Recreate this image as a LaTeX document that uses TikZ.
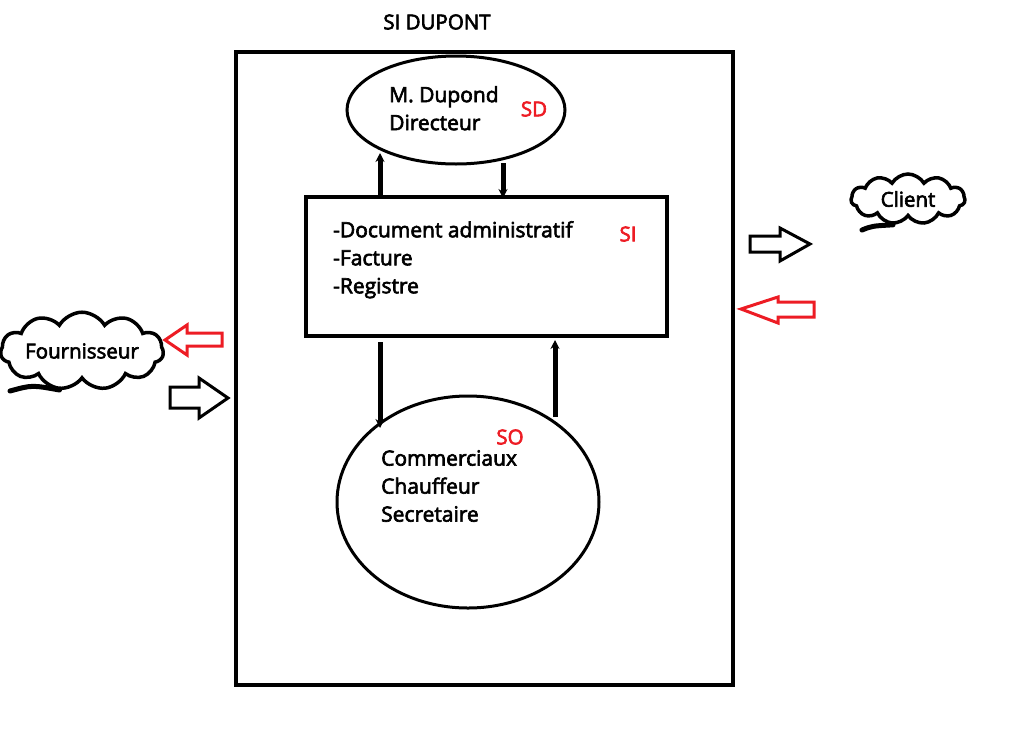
\documentclass[tikz,border=0pt]{standalone}
\usepackage{fontspec}
\setmainfont{Open Sans}
\newfontfamily\semib{Open Sans}[FakeBold=3]
\usetikzlibrary{shapes.symbols,arrows.meta,calc}
\definecolor{sired}{RGB}{237,28,36}
\begin{document}
\begin{tikzpicture}[x=1pt,y=-1pt,
  txt/.style={font=\semib\fontsize{21}{28}\selectfont, align=left, inner sep=0pt, anchor=north west},
  tag/.style={font=\semib\fontsize{20.5}{24}\selectfont, text=sired, inner sep=0pt},
  bubble/.style={cloud, draw, line width=3.5pt, cloud puffs=11, cloud puff arc=120, aspect=3, inner sep=0pt, font=\semib\fontsize{20.5}{24}\selectfont},
  flow/.style={line width=5pt, -{Stealth[length=9pt,width=9pt]}},
  blockarrow/.style={line width=3pt, line join=miter, fill=white}
]
\useasboundingbox (0,0) rectangle (1023,729);
% title and frame
\node[font=\semib\fontsize{20.5}{24}\selectfont, inner sep=0pt] (title) at (437,22) {SI DUPONT};
\draw[line width=4pt] (236,52) rectangle (733,685);
% SD
\draw[line width=3pt] (456,110) ellipse [x radius=109, y radius=54];
\coordinate (sd) at (456,110);
\node[txt] (sdtxt) at (389,86) {M. Dupond\\Directeur};
\node[tag] (sdtag) at (534,109) {SD};
% SI
\node[draw, line width=4pt, minimum width=361, minimum height=139, inner sep=0pt] (si) at (486.5,266.5) {};
\node[txt] (sitxt) at (333,221) {-Document administratif\\-Facture\\-Registre};
\node[tag] (sitag) at (628,234) {SI};
% SO
\draw[line width=3pt] (468,502) ellipse [x radius=131, y radius=106];
\node[txt] (sotxt) at (381,450) {Commerciaux\\Chauffeur\\Secretaire};
\node[tag] (sotag) at (510,437) {SO};
% vertical flows
\coordinate (a1s) at (380,197); \coordinate (a1e) at (380,153);
\coordinate (a2s) at (503,163); \coordinate (a2e) at (503,198);
\coordinate (a3s) at (380,342); \coordinate (a3e) at (380,428);
\coordinate (a4s) at (555,417); \coordinate (a4e) at (555,340);
\draw[flow] (a1s) -- (a1e);
\draw[flow] (a2s) -- (a2e);
\draw[flow] (a3s) -- (a3e);
\draw[flow] (a4s) -- (a4e);
% clouds
\node[bubble, minimum width=160, minimum height=50] (fourn) at (82,351) {Fournisseur};
\coordinate (ftail) at (10,391);
\draw[line width=5pt, line cap=round] (fourn.240) .. controls (32,385) .. (ftail);
\node[bubble, minimum width=114, minimum height=50] (client) at (908,199) {Client};
\coordinate (ctail) at (862,230);
\draw[line width=5pt, line cap=round] (client.240) .. controls (872,226) .. (ctail);
% block arrows left
\draw[blockarrow, draw=sired] (165,340) -- (187,325) -- (187,333) -- (222,333) -- (222,346) -- (187,346) -- (187,355) -- cycle;
\draw[blockarrow] (228,398) -- (199,378) -- (199,387) -- (170,387) -- (170,408) -- (199,408) -- (199,418) -- cycle;
% block arrows right
\draw[blockarrow] (810,244) -- (780,228) -- (780,236) -- (750,236) -- (750,252) -- (780,252) -- (780,261) -- cycle;
\draw[blockarrow, draw=sired] (741,309) -- (778,297) -- (778,302) -- (814,302) -- (814,317) -- (778,317) -- (778,323) -- cycle;
\end{tikzpicture}
\end{document}
